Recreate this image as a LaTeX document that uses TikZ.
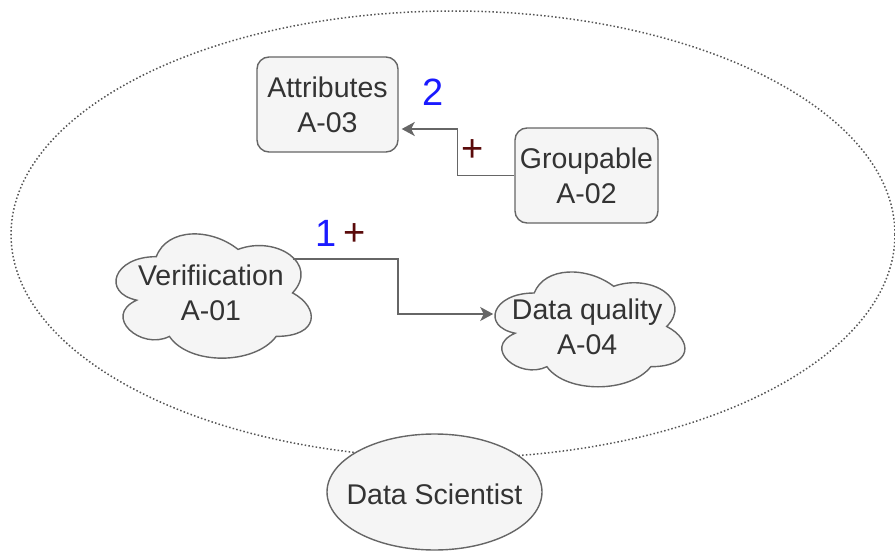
\documentclass[tikz,border=0pt]{standalone}
\usepackage{fontspec}
\setmainfont{Liberation Sans}
\usetikzlibrary{arrows.meta}

\definecolor{nodefill}{HTML}{F5F5F5}
\definecolor{nodeline}{HTML}{666666}
\definecolor{nodetext}{HTML}{333333}
\definecolor{scopedots}{HTML}{555555}
\definecolor{plusred}{HTML}{5A0A0A}
\definecolor{numblue}{HTML}{1A1AFF}

% Cloud outline in a unit box: #1,#2 = top-left corner, #3,#4 = width, height
\newcommand\cloudoutline[4]{%
  \begin{scope}[shift={(#1,#2)}, x=#3pt, y=-#4pt]
    \filldraw[cloudline]
      (0.25,0.25) .. controls (0.05,0.25) and (0,0.5) .. (0.16,0.55)
      .. controls (0,0.66) and (0.18,0.9) .. (0.31,0.8)
      .. controls (0.4,1) and (0.7,1) .. (0.8,0.8)
      .. controls (1,0.8) and (1,0.6) .. (0.875,0.5)
      .. controls (1,0.3) and (0.8,0.1) .. (0.625,0.2)
      .. controls (0.5,0.05) and (0.3,0.05) .. (0.25,0.25) -- cycle;
  \end{scope}}

\begin{document}
\begin{tikzpicture}[x=1pt, y=-1pt,
  labelfont/.style={font=\fontsize{28.5}{35}\selectfont},
  box/.style={draw=nodeline, fill=nodefill, line width=1.4pt,
    rounded corners=12pt, text=nodetext, align=center, inner sep=0pt,
    labelfont},
  cloudline/.style={draw=nodeline, fill=nodefill, line width=1.4pt},
  cloudtext/.style={text=nodetext, align=center, inner sep=0pt, labelfont},
  actorline/.style={draw=nodeline, fill=nodefill, line width=1.4pt},
  actortext/.style={text=nodetext, inner sep=0pt, labelfont},
  scopeline/.style={draw=scopedots, line width=1.5pt,
    dash pattern=on 1.5pt off 2.2pt},
  conn/.style={draw=nodeline, line width=1.6pt,
    -{Stealth[length=13pt, width=14pt, inset=3.5pt]}},
  numlabel/.style={text=numblue, inner sep=0pt,
    font=\fontsize{38}{40}\selectfont},
  pluslabel/.style={text=plusred, inner sep=0pt,
    font=\fontsize{38}{40}\selectfont}]

\useasboundingbox (0,0) rectangle (895,551);

% system boundary
\draw[scopeline] (453,234.5) ellipse [x radius=442, y radius=223.5];

% actor
\filldraw[actorline] (434.5,492) ellipse [x radius=107.5, y radius=58];
\node[actortext] (ds) at (434.5,494) {Data Scientist};

% rounded boxes
\node[box, minimum width=141pt, minimum height=95pt] (attr) at (327.5,104.5)
  {Attributes\\A-03};
\node[box, minimum width=143pt, minimum height=95pt] (grp) at (586.5,175.5)
  {Groupable\\A-02};

% clouds
\cloudoutline{101.8}{220.4}{218}{145}
\node[cloudtext, minimum width=218pt, minimum height=145pt] (verif)
  at (210.9,292.9) {Verifiication\\A-01};
\cloudoutline{481.2}{259.5}{212}{134}
\node[cloudtext, minimum width=212pt, minimum height=134pt] (qual)
  at (587.2,326.5) {Data quality\\A-04};

% connector end points on the cloud outlines
\coordinate (verif-exit) at ([shift={(82,-34)}]verif.center);
\coordinate (qual-entry) at ([shift={(-94,-12.5)}]qual.center);

% connectors
\draw[conn] (verif-exit) -- ++(105,0) |- (qual-entry);
\draw[conn] (grp.west) -- ++(-57,0) |- ([shift={(3,24.5)}]attr.east);

% connector labels
\node[numlabel] (n2) at (433,92) {2};
\node[pluslabel] (p2) at (473,150.5) {+};
\node[numlabel] (n1) at (326.5,233.5) {1};
\node[pluslabel] (p1) at (355,234.5) {+};

\end{tikzpicture}
\end{document}
